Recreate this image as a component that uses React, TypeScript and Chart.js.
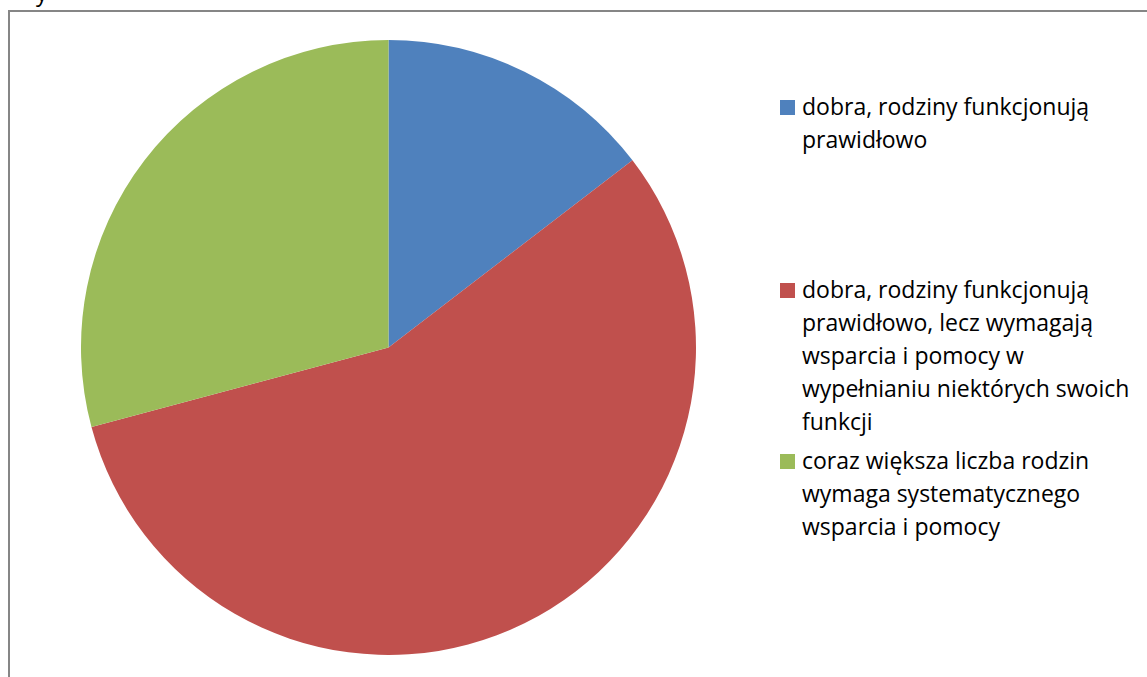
import React, { useEffect, useRef } from "react";
import { Chart, registerables } from "chart.js";

Chart.register(...registerables);

const categories: string[] = [
  "dobra, rodziny funkcjonują\nprawidłowo",
  "dobra, rodziny funkcjonują\nprawidłowo, lecz wymagają\nwsparcia i pomocy w\nwypełnianiu niektórych swoich\nfunkcji",
  "coraz większa liczba rodzin\nwymaga systematycznego\nwsparcia i pomocy",
];
const values: number[] = [7, 27, 14];
const colors: string[] = ["#4F81BD", "#C0504D", "#9BBB59"];
const legendTops: number[] = [90, 273, 444];

const FONT = "'Open Sans', Lato, sans-serif";

export default function App() {
  const ref = useRef<HTMLCanvasElement | null>(null);

  useEffect(() => {
    if (!ref.current) return;
    const chart = new Chart(ref.current, {
      type: "pie",
      data: {
        labels: categories,
        datasets: [
          {
            data: values,
            backgroundColor: colors,
            borderWidth: 0,
          },
        ],
      },
      options: {
        animation: false,
        responsive: false,
        maintainAspectRatio: false,
        layout: { padding: 0 },
        plugins: {
          legend: { display: false },
          tooltip: { enabled: false },
        },
      },
    });
    return () => chart.destroy();
  }, []);

  return (
    <div
      style={{
        position: "fixed",
        left: 0,
        top: 0,
        width: 1147,
        height: 677,
        overflow: "hidden",
        background: "#fff",
        fontFamily: FONT,
      }}
    >
      <div
        style={{
          position: "absolute",
          left: 36,
          top: -20,
          fontSize: 23,
          lineHeight: "24px",
          color: "#000",
        }}
      >
        y
      </div>
      <div
        style={{
          position: "absolute",
          left: 8,
          top: 10,
          width: 1200,
          height: 720,
          borderLeft: "2px solid #868686",
          borderTop: "2px solid #868686",
        }}
      />
      <canvas
        ref={ref}
        width={615}
        height={615}
        style={{ position: "absolute", left: 81, top: 40, width: 615, height: 615 }}
      />
      {categories.map((c, i) => (
        <div
          key={i}
          style={{
            position: "absolute",
            left: 780,
            top: legendTops[i],
            display: "flex",
            alignItems: "flex-start",
          }}
        >
          <div
            style={{
              width: 15,
              height: 15,
              background: colors[i],
              marginTop: 10,
              marginRight: 7,
              flex: "none",
            }}
          />
          <div
            style={{
              whiteSpace: "pre",
              fontSize: 23,
              lineHeight: "33px",
              color: "#000",
            }}
          >
            {c}
          </div>
        </div>
      ))}
    </div>
  );
}
